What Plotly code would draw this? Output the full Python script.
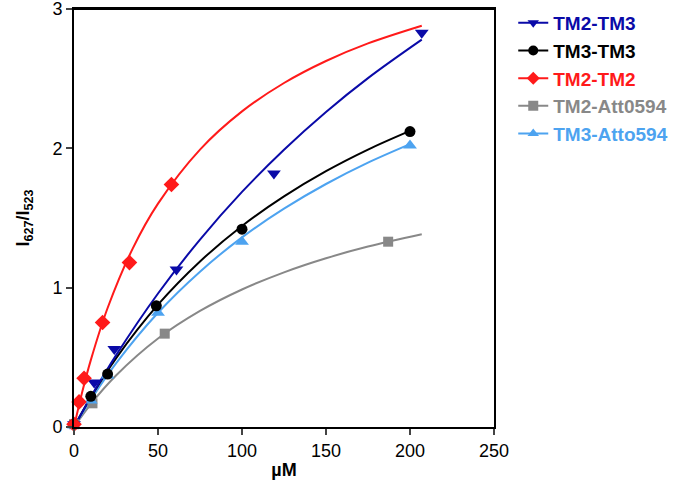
import plotly.graph_objects as go

# ---- data ----
names = ["TM2-TM3", "TM3-TM3", "TM2-TM2", "TM2-Att0594", "TM3-Atto594"]
colors = ["#0a0aa8", "#000000", "#ff1a1a", "#888888", "#4da3f0"]
symbols = ["triangle-down", "circle", "diamond", "square", "triangle-up"]
sizes = [12, 11, 12, 10, 12]

# measured points
tm2tm3_x = [0, 12, 24, 61, 119, 207]
tm2tm3_y = [0.02, 0.32, 0.56, 1.13, 1.82, 2.83]
tm3tm3_x = [0, 10, 20, 49, 100, 200]
tm3tm3_y = [0.02, 0.22, 0.38, 0.87, 1.42, 2.12]
tm2tm2_x = [0, 3, 6, 17, 33, 58]
tm2tm2_y = [0.02, 0.18, 0.35, 0.75, 1.18, 1.74]
tm2att_x = [0, 11, 54, 187]
tm2att_y = [0.02, 0.17, 0.67, 1.33]
tm3att_x = [0, 10, 20, 50, 100, 200]
tm3att_y = [0.01, 0.19, 0.37, 0.82, 1.33, 2.02]

# fitted curves
fit_tm2tm3_x = [0, 10, 25, 50, 75, 100, 125, 150, 175, 207]
fit_tm2tm3_y = [0, 0.215, 0.514, 0.958, 1.345, 1.687, 1.990, 2.261, 2.504, 2.780]
fit_tm3tm3_x = [0, 10, 25, 50, 75, 100, 125, 150, 175, 200]
fit_tm3tm3_y = [0, 0.213, 0.493, 0.878, 1.188, 1.443, 1.655, 1.836, 1.991, 2.125]
fit_tm2tm2_x = [0, 5, 10, 20, 35, 50, 75, 100, 125, 150, 175, 207]
fit_tm2tm2_y = [0, 0.256, 0.480, 0.854, 1.282, 1.603, 1.991, 2.265, 2.469, 2.627, 2.753, 2.880]
fit_tm2att_x = [0, 10, 25, 50, 75, 100, 125, 150, 175, 207]
fit_tm2att_y = [0, 0.165, 0.370, 0.635, 0.833, 0.987, 1.110, 1.211, 1.295, 1.383]
fit_tm3att_x = [0, 10, 25, 50, 75, 100, 125, 150, 175, 200]
fit_tm3att_y = [0, 0.196, 0.457, 0.820, 1.115, 1.361, 1.567, 1.744, 1.897, 2.030]

x_ticks = [0, 50, 100, 150, 200, 250]
y_ticks = [0, 1, 2, 3]

pts = [(tm2tm3_x, tm2tm3_y), (tm3tm3_x, tm3tm3_y), (tm2tm2_x, tm2tm2_y),
       (tm2att_x, tm2att_y), (tm3att_x, tm3att_y)]
fits = [(fit_tm2tm3_x, fit_tm2tm3_y), (fit_tm3tm3_x, fit_tm3tm3_y),
        (fit_tm2tm2_x, fit_tm2tm2_y), (fit_tm2att_x, fit_tm2att_y),
        (fit_tm3att_x, fit_tm3att_y)]

FONT = "Arial, Liberation Sans, sans-serif"
fig = go.Figure()

# draw order: grey, light blue, black, blue, red
order = [3, 4, 1, 0, 2]
for i in order:
    fx, fy = fits[i]
    fig.add_trace(go.Scatter(x=fx, y=fy, mode="lines", line=dict(color=colors[i], width=2, shape="spline"),
                             showlegend=False, hoverinfo="skip", cliponaxis=False))
for i in order:
    px, py = pts[i]
    fig.add_trace(go.Scatter(x=px, y=py, mode="markers",
                             marker=dict(symbol=symbols[i], size=sizes[i], color=colors[i], line=dict(width=0)),
                             showlegend=False, cliponaxis=False))
# legend entries
for i in range(5):
    fig.add_trace(go.Scatter(x=[None], y=[None], mode="lines+markers",
                             name=f'<span style="color:{colors[i]}"><b>{names[i]}</b></span>',
                             line=dict(color=colors[i], width=2),
                             marker=dict(symbol=symbols[i], size=10, color=colors[i])))

fig.update_layout(
    width=678, height=486,
    margin=dict(l=74, r=184, t=9, b=59),
    paper_bgcolor="white", plot_bgcolor="white",
    font=dict(family=FONT, size=18, color="black"),
    legend=dict(xref="container", yref="container", x=0.757, y=0.992,
                xanchor="left", yanchor="top",
                font=dict(family=FONT, size=19), itemwidth=30,
                bgcolor="rgba(0,0,0,0)", tracegroupgap=0),
    shapes=[dict(type="line", xref="paper", yref="paper", x0=0, x1=1, y0=1, y1=1,
                 line=dict(color="black", width=2), layer="above")],
)
fig.update_xaxes(range=[0, 250], tickvals=x_ticks, ticks="outside", ticklen=6, tickwidth=2,
                 showline=True, linewidth=2, linecolor="black", mirror=True, showgrid=False,
                 zeroline=False, tickfont=dict(size=18), automargin=False, ticklabeloverflow="allow",
                 title=dict(text="<b>µM</b>", font=dict(size=18), standoff=4))
fig.update_yaxes(range=[0, 3], tickvals=y_ticks, ticks="outside", ticklen=6, tickwidth=2,
                 showline=True, linewidth=2, linecolor="black", mirror=True, showgrid=False,
                 zeroline=False, tickfont=dict(size=18), automargin=False, ticklabeloverflow="allow",
                 title=dict(text="<b>I<sub>627</sub>/I<sub>523</sub></b>", font=dict(size=18), standoff=18))

fig.write_html("out.html", config={"displayModeBar": False},
               post_script="document.body.style.margin='0';")
